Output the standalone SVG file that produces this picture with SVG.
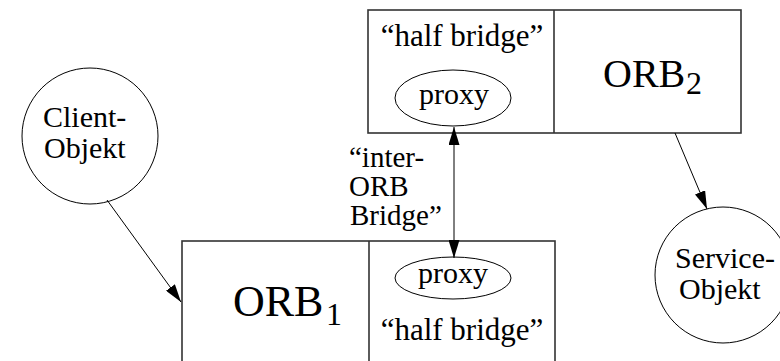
<svg xmlns="http://www.w3.org/2000/svg" width="780" height="361" viewBox="0 0 780 361">
<defs>
<style>
.box{fill:none;stroke:#333;stroke-width:1.6}
.shape{fill:none;stroke:#000;stroke-width:1}
.line{stroke:#000;stroke-width:1;fill:none}
</style>
<marker id="ah" markerUnits="userSpaceOnUse" markerWidth="18" markerHeight="11" refX="18" refY="5.5" orient="auto-start-reverse">
<path d="M0,0 L18,5.5 L0,11 z" fill="#000"/>
</marker>
</defs>
<rect width="780" height="361" fill="#fff"/>
<g font-family="'Liberation Serif', 'DejaVu Serif', serif" fill="#000">
<g id="orb2">
<rect class="box" x="368" y="10" width="373" height="123"/>
<line class="box" x1="554" y1="10" x2="554" y2="133"/>
<text x="462" y="46" font-size="31" text-anchor="middle">“half bridge”</text>
<text x="603" y="87" font-size="40">ORB</text>
<text x="686" y="94" font-size="32">2</text>
</g>
<g id="proxy-top">
<ellipse class="shape" cx="453" cy="98" rx="58" ry="28"/>
<text x="454" y="104" font-size="30" text-anchor="middle">proxy</text>
</g>
<g id="orb1">
<rect class="box" x="182" y="241" width="373" height="140"/>
<line class="box" x1="369" y1="241" x2="369" y2="361"/>
<text x="233" y="316" font-size="44">ORB</text>
<text x="326" y="325" font-size="32">1</text>
<text x="462" y="340" font-size="31" text-anchor="middle">“half bridge”</text>
</g>
<g id="proxy-bottom">
<ellipse class="shape" cx="453" cy="278" rx="58" ry="21"/>
<text x="453" y="283" font-size="30" text-anchor="middle">proxy</text>
</g>
<g id="client">
<circle class="shape" cx="90" cy="136" r="68"/>
<text x="43" y="127" font-size="30">Client-</text>
<text x="44" y="158" font-size="30">Objekt</text>
</g>
<g id="service">
<circle class="shape" cx="723" cy="275" r="68"/>
<text x="675" y="268" font-size="30">Service-</text>
<text x="679" y="299" font-size="30">Objekt</text>
</g>
<g id="bridge-label">
<text x="349" y="167" font-size="29">“inter-</text>
<text x="349" y="196" font-size="29">ORB</text>
<text x="350" y="225" font-size="29">Bridge”</text>
</g>
</g>
<g id="connectors">
<line class="line" x1="107" y1="200" x2="181" y2="302" marker-end="url(#ah)"/>
<line class="line" x1="675" y1="133" x2="707" y2="209" marker-end="url(#ah)"/>
<line class="line" x1="454" y1="127" x2="454" y2="258" marker-start="url(#ah)" marker-end="url(#ah)"/>
</g>
</svg>
